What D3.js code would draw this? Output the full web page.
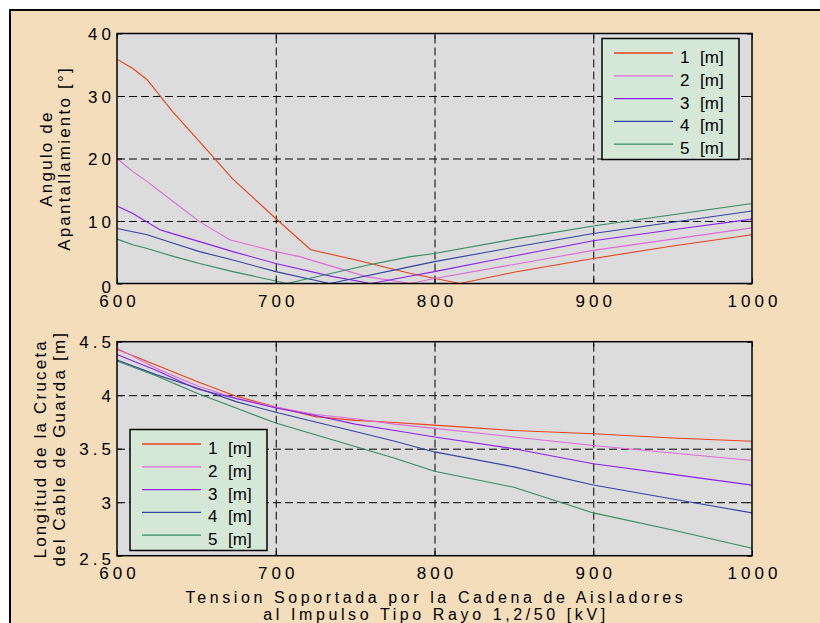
<!DOCTYPE html>
<html>
<head>
<meta charset="utf-8">
<script src="https://cdn.jsdelivr.net/npm/d3@7"></script>
<style>
  html, body { margin: 0; background: #fff; overflow: hidden; }
  svg { display: block; font-family: "Liberation Sans", Arial, sans-serif; }
</style>
</head>
<body>
<script>
// series labels (the legend shows "<n>  [m]")
const seriesNames = ['1', '2', '3', '4', '5']
const seriesColors = ['#e8411c', '#dd6ad8', '#8c22ee', '#3543a3', '#358b63']

// top panel: shielding angle [deg] vs insulator withstand voltage [kV]
const angle1 = [[600,35.9],[610,34.4],[619,32.6],[635,27.5],[652,22.7],[673,16.7],[700,10.4],[722,5.4],[750,3.8],[785,1.6],[816,0],[850,1.8],[900,4.0],[950,6.0],[1000,7.8]]
const angle2 = [[600,20],[610,17.9],[619,16.3],[637,12.8],[652,9.9],[671,7],[700,5.1],[715,4.3],[736,2.7],[757,1.1],[785,0],[800,0.8],[850,3.05],[900,5.3],[950,7.1],[1000,8.9]]
const angle3 = [[600,12.4],[610,11.2],[627,8.6],[636,7.9],[652,6.7],[673,5.1],[700,3.2],[736,1.1],[760,0],[785,1.2],[800,1.9],[850,4.4],[900,6.85],[950,8.6],[1000,10.3]]
const angle4 = [[600,8.8],[619,7.8],[636,6.4],[652,5.1],[673,3.76],[700,1.9],[734,0],[785,2.7],[800,3.5],[850,5.8],[900,8],[950,9.8],[1000,11.6]]
const angle5 = [[600,7.1],[610,6.2],[619,5.6],[636,4.3],[652,3.2],[673,1.9],[700,0.4],[707,0],[759,3.0],[785,4.3],[800,4.8],[850,7.1],[900,9.2],[950,11.0],[1000,12.8]]

// bottom panel: cross-arm length [m]
const kV = [600, 625, 650, 675, 700, 725, 750, 775, 800, 850, 900, 950, 1000]
const length1 = [4.43, 4.28, 4.13, 3.99, 3.89, 3.80, 3.765, 3.745, 3.72, 3.67, 3.64, 3.60, 3.57]
const length2 = [4.44, 4.25, 4.09, 3.97, 3.89, 3.82, 3.78, 3.73, 3.69, 3.61, 3.53, 3.46, 3.39]
const length3 = [4.38, 4.23, 4.06, 3.97, 3.88, 3.81, 3.73, 3.67, 3.61, 3.50, 3.36, 3.26, 3.16]
const length4 = [4.33, 4.19, 4.07, 3.94, 3.84, 3.75, 3.66, 3.57, 3.47, 3.33, 3.16, 3.03, 2.90]
const length5 = [4.32, 4.18, 4.02, 3.88, 3.74, 3.63, 3.52, 3.41, 3.29, 3.14, 2.90, 2.74, 2.57]

const xTicks = [600, 700, 800, 900, 1000]
const angleTicks = [0, 10, 20, 30, 40]
const lengthTicks = [2.5, 3, 3.5, 4, 4.5]

const width = 820, height = 623
const svg = d3.select('body').append('svg')
    .attr('width', width)
    .attr('height', height)

// figure background, border only visible on top and left
svg.append('rect')
  .attr('x', 10).attr('y', 10)
  .attr('width', width).attr('height', height)
  .attr('fill', '#f3ddba')
  .attr('stroke', '#000')
  .attr('stroke-width', 2)

const x = d3.scaleLinear().domain([600, 1000]).range([117, 752])

function panel(opts) {
  const y = d3.scaleLinear().domain(opts.domain).range(opts.range)
  const top = opts.range[1], bottom = opts.range[0]
  const left = x.range()[0], right = x.range()[1]
  const g = svg.append('g')

  g.append('rect')
    .attr('x', left).attr('y', top)
    .attr('width', right - left).attr('height', bottom - top)
    .attr('fill', '#dcdcdc')

  // dashed grid
  g.append('g')
    .attr('transform', `translate(0,${bottom})`)
    .call(d3.axisBottom(x).tickValues(xTicks.slice(1, -1)).tickSize(-(bottom - top)).tickFormat(''))
    .call(a => a.select('.domain').remove())
    .selectAll('line').attr('stroke', '#000').attr('stroke-dasharray', '8,4')
  g.append('g')
    .attr('transform', `translate(${left},0)`)
    .call(d3.axisLeft(y).tickValues(opts.ticks.slice(1, -1)).tickSize(-(right - left)).tickFormat(''))
    .call(a => a.select('.domain').remove())
    .selectAll('line').attr('stroke', '#000').attr('stroke-dasharray', '8,4')

  // curves
  const line = d3.line().x(d => x(d[0])).y(d => y(d[1]))
  opts.series.forEach((s, i) => {
    g.append('path')
      .datum(s)
      .attr('fill', 'none')
      .attr('stroke', seriesColors[i])
      .attr('stroke-width', 1.1)
      .attr('d', line)
  })

  // axes with inward ticks
  const styleAxis = a => {
    a.select('.domain').remove()
    a.selectAll('line').attr('stroke', '#000')
    a.selectAll('text')
      .attr('fill', '#000')
      .style('font-size', '17px')
      .style('letter-spacing', '4px')
  }
  g.append('g')
    .attr('transform', `translate(0,${bottom})`)
    .call(d3.axisBottom(x).tickValues(xTicks).tickSize(-5).tickPadding(11).tickFormat(d3.format('d')))
    .call(styleAxis)
    .selectAll('text').attr('dx', '2px')
  g.append('g')
    .attr('transform', `translate(0,${top})`)
    .call(d3.axisTop(x).tickValues(xTicks).tickSize(-5).tickFormat(''))
    .call(styleAxis)
  g.append('g')
    .attr('transform', `translate(${left},0)`)
    .call(d3.axisLeft(y).tickValues(opts.ticks).tickSize(-5).tickPadding(2).tickFormat(opts.format))
    .call(styleAxis)
    // the lowest label sits a little lower, as in the original export
    .selectAll('text').attr('dy', (d, i) => i == 0 ? '0.5em' : '0.36em')
  g.append('g')
    .attr('transform', `translate(${right},0)`)
    .call(d3.axisRight(y).tickValues(opts.ticks).tickSize(-5).tickFormat(''))
    .call(styleAxis)

  g.append('rect')
    .attr('x', left).attr('y', top)
    .attr('width', right - left).attr('height', bottom - top)
    .attr('fill', 'none')
    .attr('stroke', '#000')
    .attr('stroke-width', 1.5)

  // y label, two lines
  const cy = (top + bottom) / 2
  opts.ylabel.forEach((t, i) => {
    g.append('text')
      .attr('transform', `translate(${opts.ylabelX[i]},${cy}) rotate(-90)`)
      .attr('text-anchor', 'middle')
      .style('font-size', '17px')
      .style('letter-spacing', '2.2px')
      .text(t)
  })

  // legend
  const lg = g.append('g').attr('transform', `translate(${opts.legend[0]},${opts.legend[1]})`)
  lg.append('rect')
    .attr('width', 137).attr('height', 121)
    .attr('fill', '#d5e8d8')
    .attr('stroke', '#000')
    .attr('stroke-width', 1.5)
  seriesNames.forEach((name, i) => {
    const ry = 14.5 + i * 22.8
    lg.append('line')
      .attr('x1', 12).attr('x2', 71)
      .attr('y1', ry).attr('y2', ry)
      .attr('stroke', seriesColors[i])
      .attr('stroke-width', 1.3)
    lg.append('text')
      .attr('x', 78).attr('y', ry + 10)
      .style('font-size', '17px')
      .text(name)
    lg.append('text')
      .attr('x', 98).attr('y', ry + 10)
      .style('font-size', '17px')
      .text('[m]')
  })
}

panel({
  domain: [0, 40],
  range: [283.5, 33.5],
  ticks: angleTicks,
  format: d3.format('d'),
  series: [angle1, angle2, angle3, angle4, angle5],
  ylabel: ['Angulo de', 'Apantallamiento [°]'],
  ylabelX: [52, 70],
  legend: [602, 38.5]
})

const asPairs = vals => kV.map((k, i) => [k, vals[i]])
panel({
  domain: [2.5, 4.5],
  range: [555.7, 341.7],
  ticks: lengthTicks,
  format: d => String(d),
  series: [length1, length2, length3, length4, length5].map(asPairs),
  ylabel: ['Longitud de la Cruceta', 'del Cable de Guarda [m]'],
  ylabelX: [46, 65],
  legend: [130, 429.5]
})

// shared x label
const xl = svg.append('text')
  .attr('text-anchor', 'middle')
  .style('font-size', '16px')
  .style('letter-spacing', '3.6px')
xl.append('tspan').attr('x', 436).attr('y', 603).text('Tension Soportada por la Cadena de Aisladores')
xl.append('tspan').attr('x', 436).attr('y', 620).text('al Impulso Tipo Rayo 1,2/50 [kV]')
</script>
</body>
</html>
